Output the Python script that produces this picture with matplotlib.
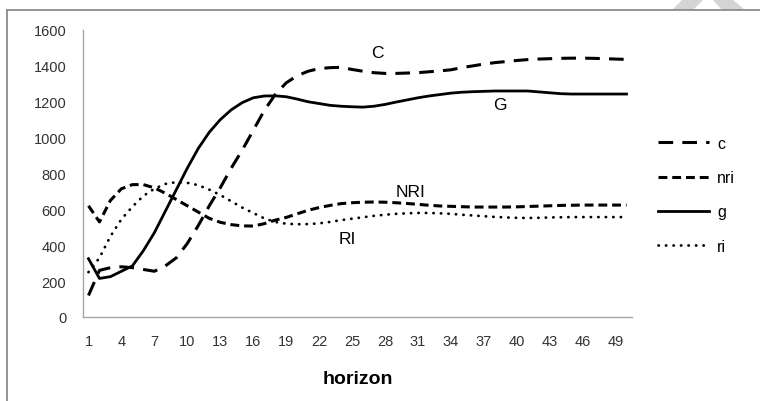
import numpy as np
import matplotlib
matplotlib.use("Agg")
import matplotlib.pyplot as plt
from matplotlib.lines import Line2D
from matplotlib.patches import Polygon

# Data
horizon = list(range(1, 51))
c = [120, 260, 275, 280, 275, 265, 255, 285, 330, 410,
     510, 620, 720, 830, 930, 1040, 1150, 1240, 1305, 1345,
     1370, 1385, 1390, 1392, 1380, 1370, 1362, 1358, 1358, 1360,
     1362, 1367, 1372, 1378, 1390, 1400, 1410, 1418, 1424, 1430,
     1435, 1438, 1440, 1442, 1443, 1443, 1442, 1440, 1438, 1436]
nri = [620, 530, 650, 715, 738, 738, 720, 690, 655, 620,
       585, 550, 528, 515, 508, 507, 520, 540, 555, 575,
       595, 610, 622, 632, 637, 640, 641, 640, 637, 633,
       628, 623, 619, 617, 615, 613, 613, 613, 613, 614,
       616, 618, 620, 622, 623, 624, 624, 624, 624, 624]
g = [325, 215, 225, 255, 285, 370, 470, 590, 710, 830,
     940, 1030, 1100, 1155, 1195, 1222, 1232, 1233, 1228, 1215,
     1200, 1190, 1180, 1175, 1172, 1170, 1175, 1185, 1198, 1210,
     1222, 1232, 1240, 1248, 1253, 1256, 1258, 1260, 1260, 1260,
     1260, 1255, 1250, 1245, 1243, 1243, 1243, 1243, 1243, 1243]
ri = [250, 330, 450, 545, 615, 675, 715, 742, 752, 748,
      735, 710, 680, 645, 610, 580, 550, 530, 520, 517,
      518, 522, 530, 540, 548, 556, 564, 570, 575, 578,
      580, 580, 578, 575, 570, 566, 562, 558, 555, 553,
      552, 553, 555, 556, 557, 557, 557, 557, 557, 557]
xticks = list(range(1, 50, 3))
yticks = [0, 200, 400, 600, 800, 1000, 1200, 1400, 1600]
curve_labels = [("C", 27.3, 1477), ("G", 38.5, 1187), ("NRI", 30.3, 702), ("RI", 24.6, 435)]

plt.rcParams['font.family'] = ['Liberation Sans', 'DejaVu Sans']

W, H = 760, 402
fig = plt.figure(figsize=(7.6, 4.02), dpi=100)
ax = fig.add_axes([83 / W, 1 - 318 / H, (632 - 83) / W, (318 - 31) / H])

lc, = ax.plot(horizon, c, color='black', lw=2.2, linestyle=(0, (4.8, 3.0)), label='c')
ln, = ax.plot(horizon, nri, color='black', lw=2.2, linestyle=(0, (2.9, 1.6)), label='nri')
lg, = ax.plot(horizon, g, color='black', lw=2.0, label='g')
lr, = ax.plot(horizon, ri, color='black', lw=2.0, linestyle=(0, (0.1, 2.6)),
              dash_capstyle='round', label='ri')

for txt, x, y in curve_labels:
    ax.text(x, y, txt, ha='center', va='center', fontsize=12.5)

ax.set_xlim(0.5, 50.5)
ax.set_ylim(0, 1600)
ax.set_xticks(xticks)
ax.set_yticks(yticks)
ax.tick_params(length=0, labelsize=10.5, colors='#333333', pad=12)
for s in ['top', 'right']:
    ax.spines[s].set_visible(False)
for s in ['left', 'bottom']:
    ax.spines[s].set_color('#a6a6a6')
    ax.spines[s].set_linewidth(1.0)
ax.set_xlabel('horizon', fontsize=14, fontweight='bold', labelpad=16)

fig.legend(handles=[lc, ln, lg, lr], loc='upper left', bbox_to_anchor=(658 / W, 1 - 137 / H),
           frameon=False, fontsize=11.5, handlelength=3.2, handletextpad=0.5,
           labelspacing=1.2, borderpad=0, borderaxespad=0)

# outer frame, cut off on the right and bottom like the reference
fig.add_artist(Line2D([7 / W, 7 / W], [0, 1 - 11 / H], transform=fig.transFigure,
                      color='#8c8c8c', lw=1.3))
fig.add_artist(Line2D([7 / W, 1], [1 - 11 / H, 1 - 11 / H], transform=fig.transFigure,
                      color='#8c8c8c', lw=1.3))
# faint grey watermark shape at the top right
for pts in ([(672, 11), (683, 0), (704, 0), (693, 11)],
            [(722, 11), (712, 0), (732, 0), (745, 11)]):
    fig.add_artist(Polygon([(x / W, 1 - y / H) for x, y in pts], closed=True,
                           transform=fig.transFigure, facecolor='#d4d4d4',
                           edgecolor='none', zorder=0))

fig.savefig('out.png', dpi=100)
